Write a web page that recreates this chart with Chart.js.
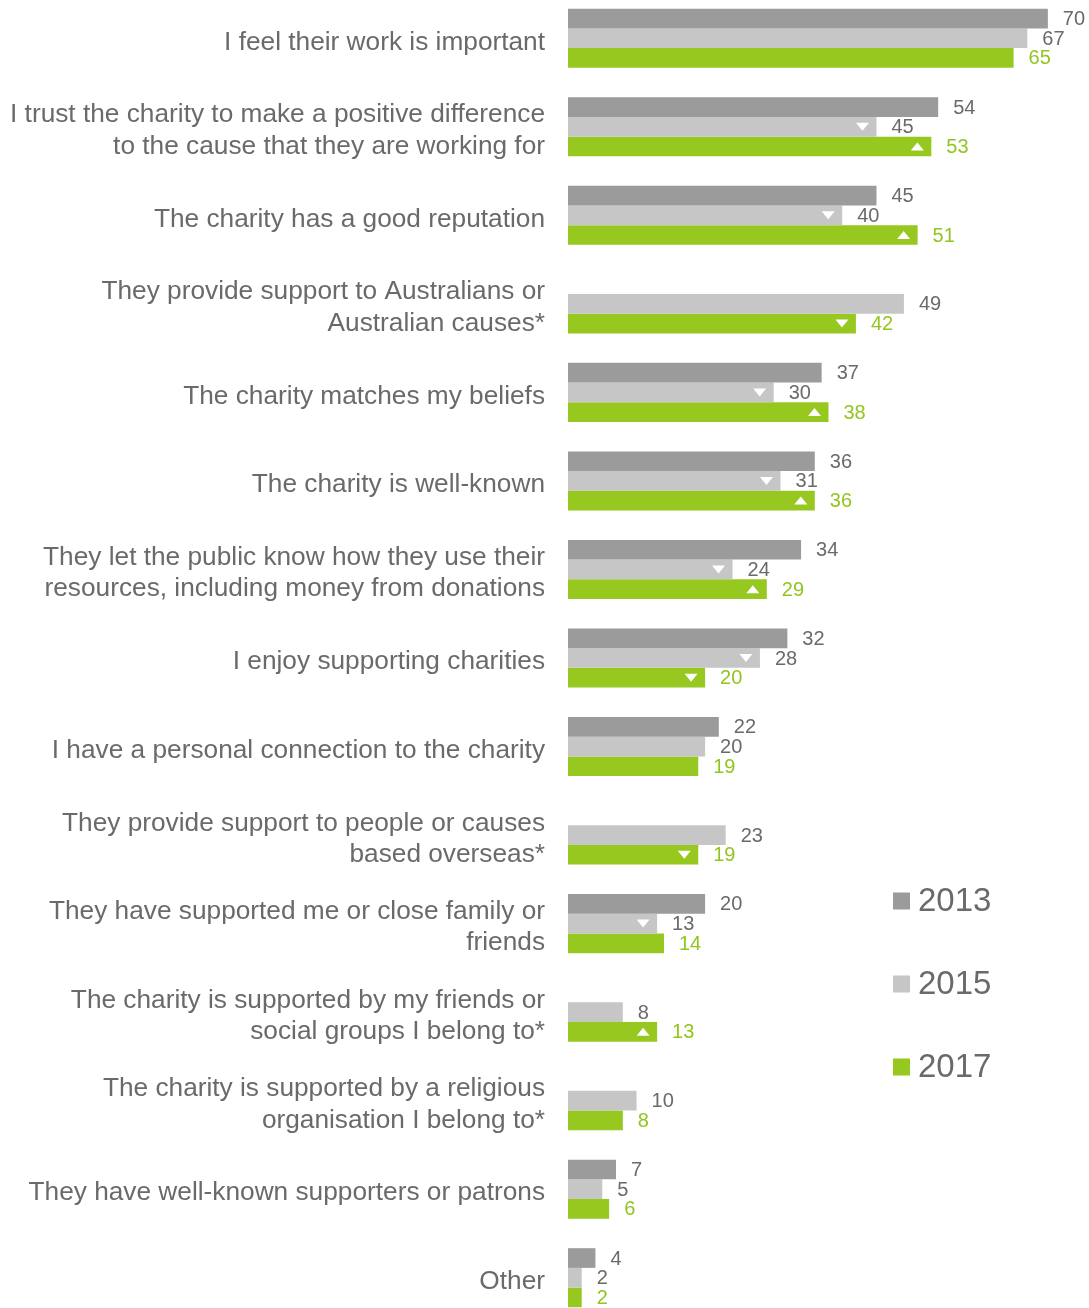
<!DOCTYPE html>
<html>
<head>
<meta charset="utf-8">
<script src="https://cdn.jsdelivr.net/npm/chart.js@4.4.1/dist/chart.umd.min.js"></script>
<style>
  html, body { margin: 0; padding: 0; background: #fff; overflow: hidden; }
  #wrap { position: relative; width: 1089px; height: 1308px; overflow: hidden; }
  #chart { position: absolute; left: 0; top: -6px; }
</style>
</head>
<body>
<div id="wrap">
  <canvas id="chart" width="1089" height="1328"></canvas>
</div>
<script>
const categories = [
  "I feel their work is important",
  ["I trust the charity to make a positive difference", "to the cause that they are working for"],
  "The charity has a good reputation",
  ["They provide support to Australians or", "Australian causes*"],
  "The charity matches my beliefs",
  "The charity is well-known",
  ["They let the public know how they use their", "resources, including money from donations"],
  "I enjoy supporting charities",
  "I have a personal connection to the charity",
  ["They provide support to people or causes", "based overseas*"],
  ["They have supported me or close family or", "friends"],
  ["The charity is supported by my friends or", "social groups I belong to*"],
  ["The charity is supported by a religious", "organisation I belong to*"],
  "They have well-known supporters or patrons",
  "Other"
];

const years = ["2013", "2015", "2017"];
const values2013 = [70, 54, 45, null, 37, 36, 34, 32, 22, null, 20, null, null, 7, 4];
const values2015 = [67, 45, 40, 49, 30, 31, 24, 28, 20, 23, 13, 8, 10, 5, 2];
const values2017 = [65, 53, 51, 42, 38, 36, 29, 20, 19, 19, 14, 13, 8, 6, 2];

// significant change vs previous wave (white arrow inside the bar)
const change2013 = [null, null, null, null, null, null, null, null, null, null, null, null, null, null, null];
const change2015 = [null, "down", "down", null, "down", "down", "down", "down", null, null, "down", null, null, null, null];
const change2017 = [null, "up", "up", "down", "up", "up", "up", "down", null, "down", null, "up", null, null, null];

const barColors = ["#9b9b9b", "#c6c6c6", "#96c81f"];
const labelColors = ["#6a6a6a", "#6a6a6a", "#92c51f"];
const changes = [change2013, change2015, change2017];

const FONT = "'Liberation Sans', Arial, sans-serif";

// value labels + arrows
const barExtras = {
  id: "barExtras",
  afterDatasetsDraw(chart) {
    const ctx = chart.ctx;
    ctx.save();
    chart.data.datasets.forEach((ds, di) => {
      const meta = chart.getDatasetMeta(di);
      meta.data.forEach((bar, i) => {
        const v = ds.data[i];
        if (v === null || v === undefined) return;
        const dir = changes[di][i];
        if (dir) {
          const cx = bar.x - 14;
          const cy = bar.y;
          ctx.fillStyle = "#ffffff";
          ctx.beginPath();
          if (dir === "up") {
            ctx.moveTo(cx - 6.5, cy + 4);
            ctx.lineTo(cx + 6.5, cy + 4);
            ctx.lineTo(cx, cy - 4);
          } else {
            ctx.moveTo(cx - 6.5, cy - 4);
            ctx.lineTo(cx + 6.5, cy - 4);
            ctx.lineTo(cx, cy + 4);
          }
          ctx.closePath();
          ctx.fill();
        }
        ctx.fillStyle = labelColors[di];
        ctx.font = "20px " + FONT;
        ctx.textAlign = "left";
        ctx.textBaseline = "middle";
        ctx.fillText(String(v), bar.x + 15, bar.y + 1);
      });
    });
    ctx.restore();
  }
};

// legend stacked on the right
const sideLegend = {
  id: "sideLegend",
  afterDraw(chart) {
    const ctx = chart.ctx;
    ctx.save();
    chart.data.datasets.forEach((ds, di) => {
      const y = 907 + di * 83;
      ctx.fillStyle = ds.backgroundColor;
      ctx.fillRect(893, y - 8.5, 17, 17);
      ctx.fillStyle = "#6a6a6a";
      ctx.font = "33px " + FONT;
      ctx.textAlign = "left";
      ctx.textBaseline = "middle";
      ctx.fillText(ds.label, 918, y + 1);
    });
    ctx.restore();
  }
};

const seriesValues = [values2013, values2015, values2017];

new Chart(document.getElementById("chart"), {
  type: "bar",
  data: {
    labels: categories,
    datasets: years.map((yr, k) => ({
      label: yr,
      data: seriesValues[k],
      backgroundColor: barColors[k],
      borderWidth: 0,
      barPercentage: 1,
      categoryPercentage: 0.667
    }))
  },
  options: {
    indexAxis: "y",
    responsive: false,
    animation: false,
    devicePixelRatio: 1,
    layout: { padding: 0 },
    plugins: {
      legend: { display: false },
      tooltip: { enabled: false }
    },
    scales: {
      x: {
        display: false,
        min: 0,
        max: 76
      },
      y: {
        grid: { display: false, drawTicks: false },
        border: { display: false },
        ticks: {
          color: "#6a6a6a",
          padding: 23,
          labelOffset: 4,
          font: { family: FONT, size: 26.25, lineHeight: 1.19 }
        },
        afterFit(scale) {
          scale.width = 568;
          scale.paddingTop = 0;
          scale.paddingBottom = 0;
        }
      }
    }
  },
  plugins: [barExtras, sideLegend]
});
</script>
</body>
</html>
